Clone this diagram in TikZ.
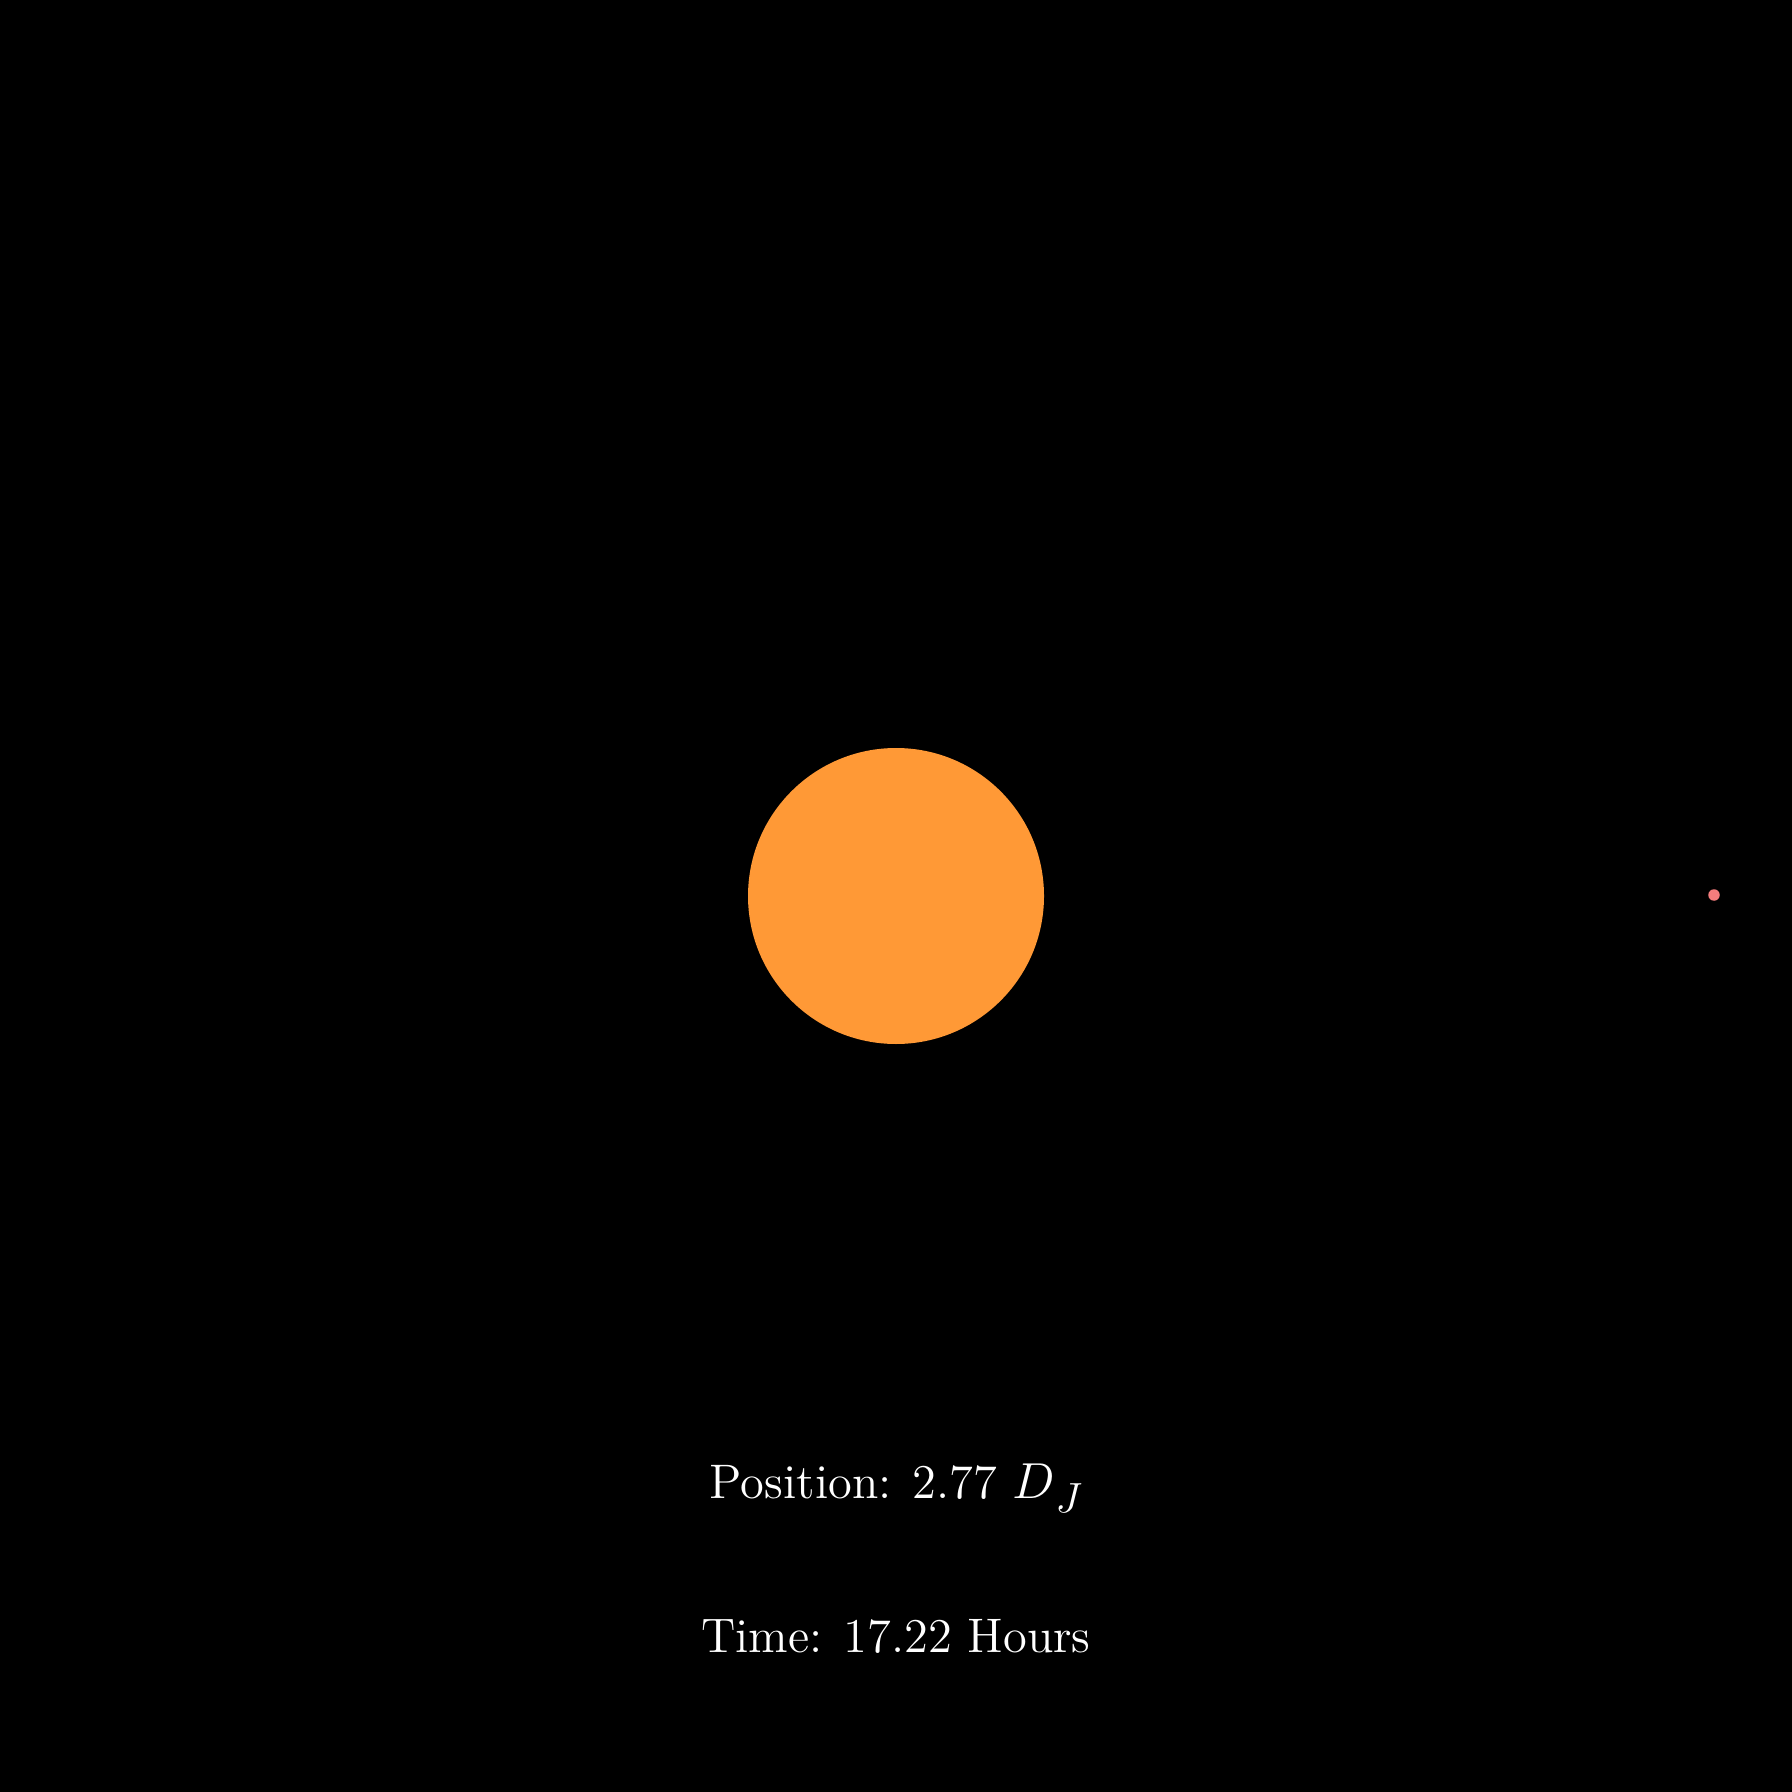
\documentclass[tikz,border=0pt]{standalone}
\definecolor{planet}{RGB}{255,153,54}
\definecolor{moon}{RGB}{245,125,125}
\tikzset{
  label text/.style={text=white, anchor=base, inner sep=0pt, font=\fontsize{13.8}{16}\selectfont},
  body/.style={circle, inner sep=0pt, draw=none}
}
\begin{document}
\begin{tikzpicture}[x=0.1mm, y=-0.1mm]
  \fill[black] (0,0) rectangle (1792,1792);
  \useasboundingbox (0,0) rectangle (1792,1792);
  \node[body, fill=planet, minimum size=29.6mm] (jupiter) at (896,896) {};
  \node[body, fill=moon, minimum size=1.15mm] (moon) at (1714,895) {};
  \node[label text] (pos) at (896,1498) {Position: 2.77 $D$\raisebox{-4pt}{\fontsize{12.2}{14}\selectfont$J$}};
  \node[label text] (time) at (896,1652) {Time: 17.22 Hours};
\end{tikzpicture}
\end{document}
